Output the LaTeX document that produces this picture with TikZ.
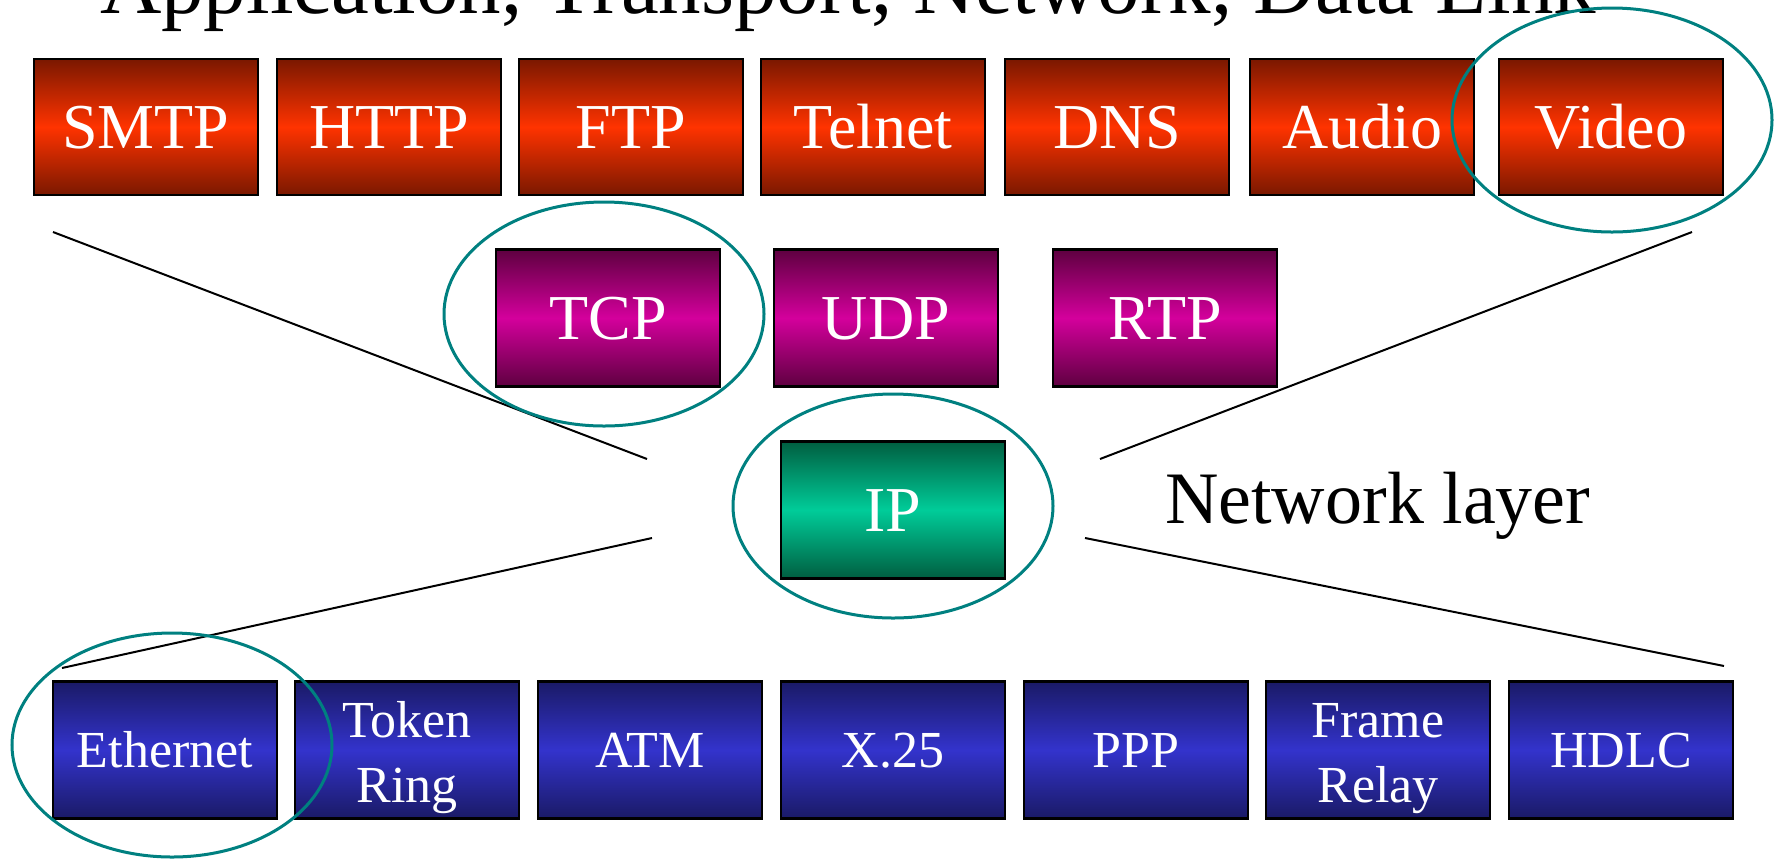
\documentclass[tikz,border=0pt]{standalone}
\usepackage{fontspec}
\setmainfont{Liberation Serif}
\usetikzlibrary{shapes.geometric}

\definecolor{appdark}{HTML}{7A1800}
\definecolor{applight}{HTML}{FF3300}
\definecolor{transdark}{HTML}{5E0040}
\definecolor{translight}{HTML}{D4009C}
\definecolor{netdark}{HTML}{005E40}
\definecolor{netlight}{HTML}{00CC99}
\definecolor{linkdark}{HTML}{1A1A66}
\definecolor{linklight}{HTML}{3333CC}
\definecolor{ringteal}{HTML}{008080}

\tikzset{
  layerbox/.style={draw=black, line width=1.2pt, minimum width=112pt,
    minimum height=68.5pt, inner sep=0pt, text=white, align=center},
  appbox/.style={layerbox, minimum height=68pt, top color=appdark, bottom color=appdark,
    middle color=applight, font=\fontsize{32}{38}\selectfont,
    text height=21pt, text depth=0pt},
  transbox/.style={layerbox, top color=transdark, bottom color=transdark,
    middle color=translight, font=\fontsize{32}{38}\selectfont,
    text height=21pt, text depth=0pt},
  netbox/.style={layerbox, top color=netdark, bottom color=netdark,
    middle color=netlight, font=\fontsize{32}{38}\selectfont,
    text height=21pt, text depth=0pt},
  linkbox/.style={layerbox, top color=linkdark, bottom color=linkdark,
    middle color=linklight, font=\fontsize{26}{32.5}\selectfont,
    text height=17pt, text depth=0pt},
  twoline/.style={text height=52pt, text depth=0pt},
  ring/.style={draw=ringteal, line width=1.5pt, ellipse, minimum width=160pt,
    minimum height=112pt, inner sep=0pt},
  fan/.style={draw=black, line width=1pt}
}

\begin{document}
\begin{tikzpicture}[x=0.5pt,y=-0.5pt]
\useasboundingbox (0,0) rectangle (1776,858);

\node[anchor=base, font=\fontsize{42.5}{50}\selectfont] (title) at (848,13)
  {Application, Transport, Network, Data Link};

% application layer
\node[appbox] (smtp) at (146,127) {SMTP};
\node[appbox] (http) at (389,127) {HTTP};
\node[appbox] (ftp) at (631,127) {FTP};
\node[appbox] (telnet) at (873,127) {Telnet};
\node[appbox] (dns) at (1117,127) {DNS};
\node[appbox] (audio) at (1362,127) {Audio};
\node[appbox] (video) at (1611,127) {Video};

% transport layer
\node[transbox] (tcp) at (608,318) {TCP};
\node[transbox] (udp) at (886,318) {UDP};
\node[transbox] (rtp) at (1165,318) {RTP};

% network layer
\node[netbox] (ip) at (893,510) {IP};
\node[anchor=base west, font=\fontsize{37}{44}\selectfont] (netlabel) at (1158,523)
  {Network layer};

% data link layer
\node[linkbox] (ethernet) at (165,750) {Ethernet};
\node[linkbox, twoline] (tokenring) at (407,750) {Token\\Ring};
\node[linkbox] (atm) at (650,750) {ATM};
\node[linkbox] (x25) at (893,750) {X.25};
\node[linkbox] (ppp) at (1136,750) {PPP};
\node[linkbox, twoline] (framerelay) at (1378,750) {Frame\\Relay};
\node[linkbox] (hdlc) at (1621,750) {HDLC};

% fan lines
\coordinate (fanAL) at (53,232);
\coordinate (fanAR) at (1692,232);
\coordinate (fanBL) at (647,459);
\coordinate (fanBR) at (1100,459);
\coordinate (fanCL) at (652,538);
\coordinate (fanCR) at (1085,538);
\coordinate (fanDL) at (62,668);
\coordinate (fanDR) at (1724,666);
\draw[fan] (fanAL) -- (fanBL);
\draw[fan] (fanAR) -- (fanBR);
\draw[fan] (fanCL) -- (fanDL);
\draw[fan] (fanCR) -- (fanDR);

% rings
\node[ring] (videoring) at (1612,120) {};
\node[ring] (tcpring) at (604,314) {};
\node[ring] (ipring) at (893,506) {};
\node[ring] (ethring) at (172,745) {};
\end{tikzpicture}
\end{document}
